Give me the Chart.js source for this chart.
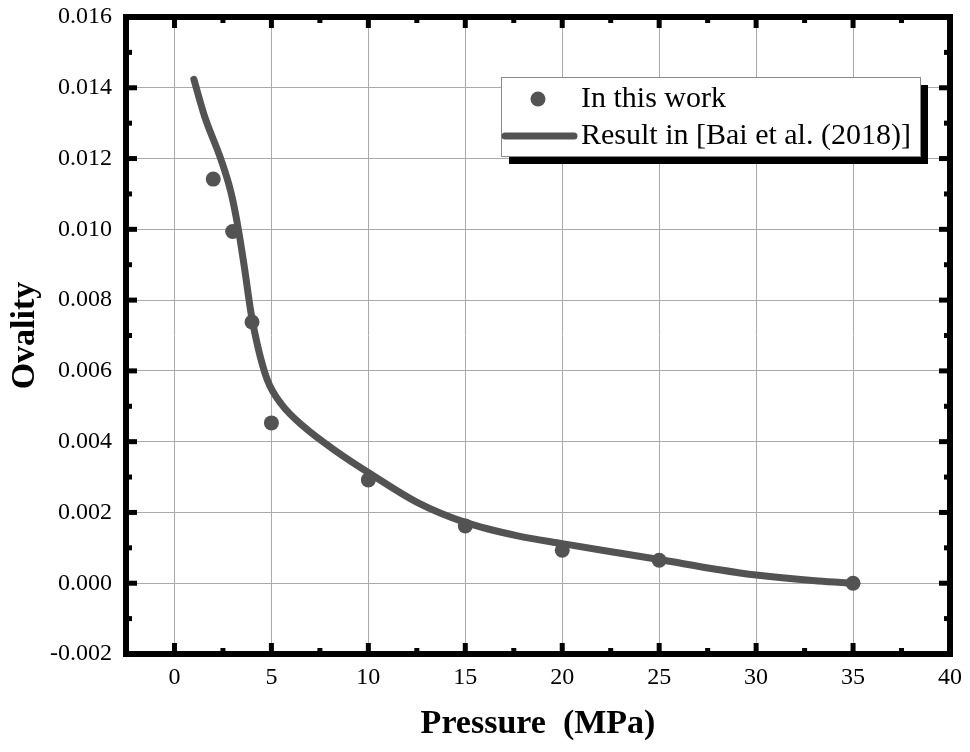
<!DOCTYPE html>
<html>
<head>
<meta charset="utf-8">
<script src="https://cdn.jsdelivr.net/npm/chart.js@4/dist/chart.umd.min.js"></script>
<style>
  html, body { margin: 0; padding: 0; background: #fff; }
  #wrap { width: 970px; height: 752px; }
</style>
</head>
<body>
<div id="wrap"><canvas id="chart"></canvas></div>
<script>
// measured points (this work)
const pressureWork = [2, 3, 4, 5, 10, 15, 20, 25, 35];
const ovalityWork = [0.01142, 0.00994, 0.00738, 0.00453, 0.00292, 0.00162, 0.00093, 0.00065, 0.0];

// curve from Bai et al. (2018)
const pressureBai = [1, 1.55, 2.4, 2.92, 3.27, 3.6, 3.95, 4.3, 4.8, 5.5, 6.7, 8.42, 10.14, 12.54, 15, 17.7, 20, 22.86, 25, 28, 30, 33.2, 35];
const ovalityBai = [0.01424, 0.0132, 0.01197, 0.01103, 0.01008, 0.00895, 0.00763, 0.00668, 0.00573, 0.00507, 0.00441, 0.0037, 0.00308, 0.00228, 0.00172, 0.00134, 0.00112, 0.00086, 0.00067, 0.00039, 0.00023, 0.00006, 0.0];

const xTicks = [0, 5, 10, 15, 20, 25, 30, 35, 40];
const yTicks = [-0.002, 0, 0.002, 0.004, 0.006, 0.008, 0.010, 0.012, 0.014, 0.016];

const markColor = '#535353';

// frame + inward ticks on all four sides
const framePlugin = {
  id: 'frame',
  afterDraw(chart) {
    const ctx = chart.ctx, a = chart.chartArea;
    const xs = chart.scales.x, ys = chart.scales.y;
    ctx.save();
    ctx.strokeStyle = '#000';
    ctx.lineWidth = 5;
    const xMajor = xs.ticks.map(t => t.value);
    const yMajor = ys.ticks.map(t => t.value);
    const xMinor = xMajor.slice(0, -1).map((v, i) => (v + xMajor[i + 1]) / 2);
    const yMinor = yMajor.slice(0, -1).map((v, i) => (v + yMajor[i + 1]) / 2);
    const tick = (x1, y1, x2, y2) => { ctx.beginPath(); ctx.moveTo(x1, y1); ctx.lineTo(x2, y2); ctx.stroke(); };
    xMajor.forEach(v => {
      const p = xs.getPixelForValue(v);
      tick(p, a.bottom, p, a.bottom - 11);
      tick(p, a.top, p, a.top + 11);
    });
    xMinor.forEach(v => {
      const p = xs.getPixelForValue(v);
      tick(p, a.bottom, p, a.bottom - 6);
      tick(p, a.top, p, a.top + 6);
    });
    yMajor.forEach(v => {
      const p = ys.getPixelForValue(v);
      tick(a.left, p, a.left + 11, p);
      tick(a.right, p, a.right - 11, p);
    });
    yMinor.forEach(v => {
      const p = ys.getPixelForValue(v);
      tick(a.left, p, a.left + 6, p);
      tick(a.right, p, a.right - 6, p);
    });
    ctx.lineWidth = 6;
    ctx.strokeRect(a.left, a.top, a.right - a.left, a.bottom - a.top);
    ctx.restore();
  }
};

// boxed legend with drop shadow
const legendPlugin = {
  id: 'boxLegend',
  afterDraw(chart) {
    const ctx = chart.ctx;
    const bx = 501, by = 77, bw = 419, bh = 79;
    ctx.save();
    ctx.fillStyle = '#000';
    ctx.fillRect(bx + 8, by + 8, bw, bh);
    ctx.fillStyle = '#fff';
    ctx.fillRect(bx, by, bw, bh);
    ctx.strokeStyle = '#8a8a8a';
    ctx.lineWidth = 1;
    ctx.strokeRect(bx + 0.5, by + 0.5, bw, bh);

    const ds = chart.data.datasets;
    ctx.font = '30px "Liberation Serif", "Times New Roman", serif';
    ctx.textBaseline = 'middle';
    ctx.textAlign = 'left';
    // points entry
    ctx.fillStyle = markColor;
    ctx.beginPath();
    ctx.arc(538, 99, 7.5, 0, Math.PI * 2);
    ctx.fill();
    ctx.fillStyle = '#000';
    ctx.fillText(ds[1].label, 581, 99);
    // line entry
    ctx.strokeStyle = markColor;
    ctx.lineWidth = 7;
    ctx.lineCap = 'round';
    ctx.beginPath();
    ctx.moveTo(505, 136);
    ctx.lineTo(574, 136);
    ctx.stroke();
    ctx.fillStyle = '#000';
    ctx.fillText(ds[0].label, 581, 136);
    ctx.restore();
  }
};

const tickFont = { family: '"Liberation Serif", "Times New Roman", serif', size: 24 };
const titleFont = { family: '"Liberation Serif", "Times New Roman", serif', size: 34, weight: 'bold' };

new Chart(document.getElementById('chart'), {
  type: 'scatter',
  data: {
    datasets: [
      {
        label: 'Result in [Bai et al. (2018)]',
        data: pressureBai.map((p, i) => ({ x: p, y: ovalityBai[i] })),
        showLine: true,
        borderColor: markColor,
        borderWidth: 7,
        borderCapStyle: 'round',
        pointRadius: 0,
        cubicInterpolationMode: 'monotone'
      },
      {
        label: 'In this work',
        data: pressureWork.map((p, i) => ({ x: p, y: ovalityWork[i] })),
        backgroundColor: markColor,
        borderColor: markColor,
        pointRadius: 7.5,
        borderWidth: 0
      }
    ]
  },
  options: {
    responsive: true,
    maintainAspectRatio: false,
    animation: false,
    layout: { padding: { top: 17, right: 20, left: 0, bottom: 0 } },
    plugins: { legend: { display: false }, tooltip: { enabled: false } },
    scales: {
      x: {
        type: 'linear',
        min: -2.5,
        max: 40,
        afterBuildTicks: s => { s.ticks = xTicks.map(v => ({ value: v })); },
        afterFit: s => { s.height = 98; s.paddingLeft = 0; s.paddingRight = 0; },
        grid: { color: '#aaaaaa', lineWidth: 1, drawTicks: false },
        border: { display: false },
        ticks: { color: '#000', font: tickFont, padding: 9, maxRotation: 0 },
        title: { display: true, text: 'Pressure  (MPa)', color: '#000', font: titleFont, padding: { top: 0, bottom: 7 } }
      },
      y: {
        type: 'linear',
        min: -0.002,
        max: 0.016,
        afterBuildTicks: s => { s.ticks = yTicks.map(v => ({ value: v })); },
        afterFit: s => { s.width = 126; s.paddingTop = 0; s.paddingBottom = 0; },
        grid: { color: '#aaaaaa', lineWidth: 1, drawTicks: false },
        border: { display: false },
        ticks: { color: '#000', font: tickFont, padding: 14, callback: v => v.toFixed(3) },
        title: { display: true, text: 'Ovality', color: '#000', font: titleFont, padding: { top: 5, bottom: 0 } }
      }
    }
  },
  plugins: [framePlugin, legendPlugin]
});
</script>
</body>
</html>
